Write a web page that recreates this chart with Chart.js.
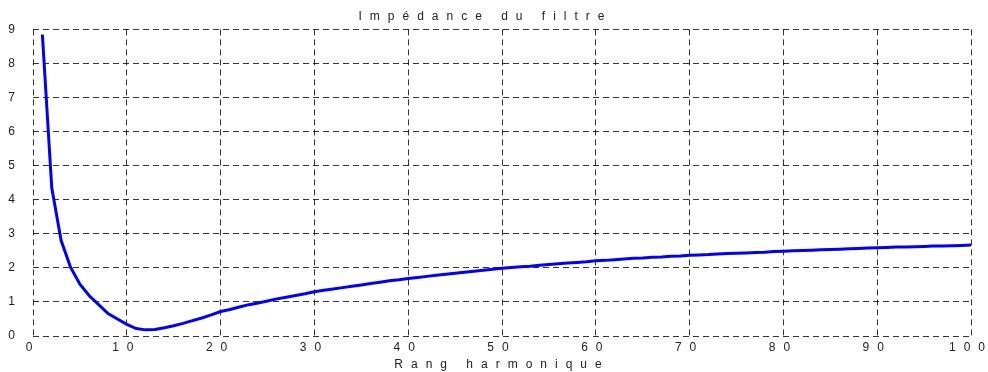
<!DOCTYPE html>
<html>
<head>
<meta charset="utf-8">
<script src="https://cdn.jsdelivr.net/npm/chart.js@4"></script>
<style>
  html, body { margin: 0; padding: 0; background: #fff; }
  #wrap { width: 988px; height: 372px; }
</style>
</head>
<body>
<div id="wrap"><canvas id="impedanceChart" width="988" height="372"></canvas></div>
<script>
// Harmonic rank (x) and filter impedance (y)
const harmonics = [
  1, 2, 3, 4, 5, 6, 7, 8, 9, 10,
  11, 12, 13, 14, 15, 16, 17, 18, 19, 20,
  21, 22, 23, 24, 25, 26, 27, 28, 29, 30,
  31, 32, 33, 34, 35, 36, 37, 38, 39, 40,
  41, 42, 43, 44, 45, 46, 47, 48, 49, 50,
  51, 52, 53, 54, 55, 56, 57, 58, 59, 60,
  61, 62, 63, 64, 65, 66, 67, 68, 69, 70,
  71, 72, 73, 74, 75, 76, 77, 78, 79, 80,
  81, 82, 83, 84, 85, 86, 87, 88, 89, 90,
  91, 92, 93, 94, 95, 96, 97, 98, 99, 100
];
const impedance = [
  8.85, 4.35, 2.80, 2.02, 1.52, 1.18, 0.92, 0.66, 0.50, 0.34,
  0.22, 0.18, 0.19, 0.24, 0.30, 0.37, 0.45, 0.53, 0.62, 0.72,
  0.78, 0.85, 0.92, 0.97, 1.03, 1.09, 1.14, 1.19, 1.24, 1.30,
  1.34, 1.38, 1.42, 1.46, 1.50, 1.54, 1.58, 1.62, 1.65, 1.69,
  1.72, 1.75, 1.78, 1.81, 1.84, 1.87, 1.90, 1.93, 1.96, 1.99,
  2.01, 2.03, 2.05, 2.08, 2.10, 2.12, 2.14, 2.16, 2.18, 2.21,
  2.22, 2.24, 2.26, 2.28, 2.29, 2.31, 2.32, 2.34, 2.35, 2.37,
  2.38, 2.39, 2.41, 2.42, 2.43, 2.44, 2.45, 2.46, 2.48, 2.49,
  2.50, 2.51, 2.52, 2.53, 2.54, 2.55, 2.56, 2.57, 2.58, 2.59,
  2.60, 2.61, 2.61, 2.62, 2.63, 2.64, 2.64, 2.65, 2.66, 2.67
];
const xTicks = [0, 10, 20, 30, 40, 50, 60, 70, 80, 90, 100];
const yTicks = [0, 1, 2, 3, 4, 5, 6, 7, 8, 9];

const chartTitle = 'Impédance du filtre';
const xTitle = 'Rang harmonique';

// wide letter spacing like the original plot
const spacingPlugin = {
    id: 'spacing',
    beforeUpdate(chart) { chart.ctx.letterSpacing = '8px'; },
    beforeDraw(chart) { chart.ctx.letterSpacing = '8px'; }
};

const dashed = [6, 4];
const gridColor = 'rgba(0, 0, 0, 0.8)';
const font = { family: 'Liberation Sans, Arial, sans-serif', size: 12, weight: 'normal' };

new Chart(document.getElementById('impedanceChart').getContext('2d'), {
    type: 'line',
    data: {
        datasets: [{
            data: harmonics.map((h, i) => ({ x: h, y: impedance[i] })),
            borderColor: '#0000ff',
            borderWidth: 3,
            pointRadius: 0,
            tension: 0,
            fill: false
        }]
    },
    plugins: [spacingPlugin],
    options: {
        responsive: false,
        animation: false,
        layout: { padding: { right: 17 } },
        plugins: {
            legend: { display: false },
            tooltip: { enabled: false },
            title: {
                display: true,
                text: chartTitle,
                color: '#222',
                font: font,
                padding: { top: 9, bottom: 6 }
            }
        },
        scales: {
            x: {
                type: 'linear',
                min: 0,
                max: 100,
                afterFit(scale) {
                    scale.height = 36;
                    scale.paddingLeft = 0;
                    scale.paddingRight = 0;
                },
                afterBuildTicks(scale) { scale.ticks = xTicks.map(v => ({ value: v })); },
                grid: { color: gridColor, drawTicks: false, lineWidth: 1 },
                border: { display: false, dash: dashed },
                ticks: { color: '#222', padding: 4, maxRotation: 0, font: font },
                title: {
                    display: true,
                    text: xTitle,
                    color: '#222',
                    padding: { top: 0, bottom: 0 },
                    font: font
                }
            },
            y: {
                min: 0,
                max: 9,
                afterFit(scale) {
                    scale.width = 33;
                    scale.paddingTop = 0;
                    scale.paddingBottom = 0;
                },
                afterBuildTicks(scale) { scale.ticks = yTicks.map(v => ({ value: v })); },
                grid: { color: gridColor, drawTicks: false, lineWidth: 1 },
                border: { display: false, dash: dashed },
                ticks: { color: '#222', padding: 10, font: font }
            }
        }
    }
});
</script>
</body>
</html>
